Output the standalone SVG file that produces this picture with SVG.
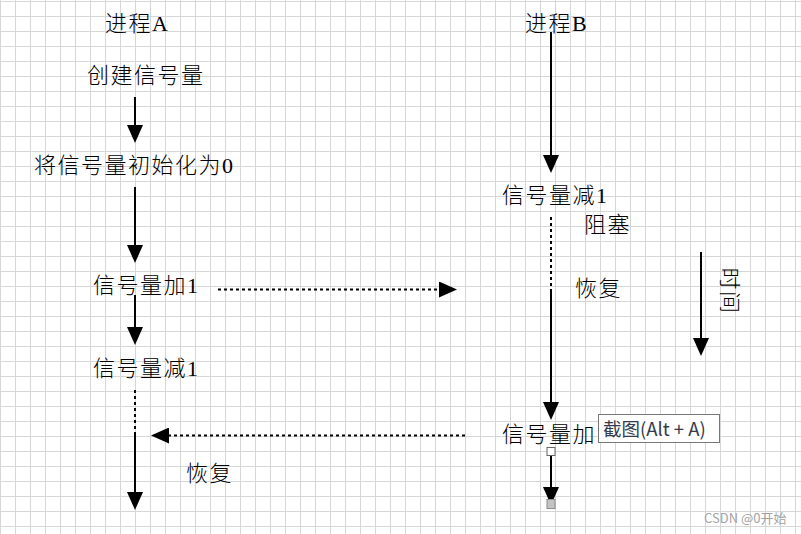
<svg xmlns="http://www.w3.org/2000/svg" width="801" height="534" viewBox="0 0 801 534">
  <defs>
    <pattern id="grid" x="0" y="1" width="15" height="15" patternUnits="userSpaceOnUse">
      <rect width="15" height="15" fill="#ffffff"/>
      <path d="M0.5 0 V15 M0 0.5 H15" stroke="#d6d6d6" stroke-width="1" fill="none"/>
    </pattern>
    <marker id="arrow" viewBox="0 0 18 16" markerWidth="18" markerHeight="16" refX="10" refY="8" orient="auto" markerUnits="userSpaceOnUse">
      <path d="M0 0 L18 8 L0 16 Z" fill="#000"/>
    </marker>
    <style>
      .lbl { font-family: "Liberation Serif", "Noto Sans CJK SC", serif; font-size: 22px; font-weight: 300; letter-spacing: 1.5px; fill: #000; }
      .solid { stroke: #000; stroke-width: 2; fill: none; }
      .dot { stroke: #000; stroke-width: 2; fill: none; stroke-dasharray: 3 3; }
      .tip { font-family: "Noto Sans CJK SC", "Liberation Sans", sans-serif; font-size: 18.5px; fill: #333c4e; }
      .mark { font-family: "Noto Sans CJK SC", "Liberation Sans", sans-serif; font-size: 13px; fill: #a3a3a3; }
    </style>
  </defs>

  <!-- background grid -->
  <rect width="801" height="534" fill="url(#grid)"/>

  <!-- connectors -->
  <g id="connectors">
    <!-- process A timeline -->
    <line class="solid" x1="135" y1="97" x2="135" y2="135" marker-end="url(#arrow)"/>
    <line class="solid" x1="135" y1="187" x2="135" y2="255" marker-end="url(#arrow)"/>
    <line class="solid" x1="135" y1="295" x2="135" y2="337" marker-end="url(#arrow)"/>
    <line class="dot" x1="135" y1="390" x2="135" y2="432"/>
    <line class="solid" x1="135" y1="432" x2="135" y2="502" marker-end="url(#arrow)"/>
    <!-- process B timeline -->
    <line class="solid" x1="551" y1="32" x2="551" y2="165" marker-end="url(#arrow)"/>
    <line class="dot" x1="551" y1="217" x2="551" y2="288"/>
    <line class="solid" x1="551" y1="289" x2="551" y2="412" marker-end="url(#arrow)"/>
    <line class="solid" x1="551" y1="455" x2="551" y2="497" marker-end="url(#arrow)"/>
    <!-- signals between processes -->
    <line class="dot" x1="218" y1="289.5" x2="449" y2="289.5" marker-end="url(#arrow)"/>
    <line class="dot" x1="465" y1="435.5" x2="159" y2="435.5" marker-end="url(#arrow)"/>
    <!-- time axis -->
    <line class="solid" x1="701" y1="252" x2="701" y2="348" marker-end="url(#arrow)"/>
    <!-- selection handles -->
    <rect x="547" y="447.5" width="8" height="8" fill="#ffffff" stroke="#666" stroke-width="1"/>
    <rect x="547" y="499.5" width="8" height="9" fill="#c4c4c4" stroke="#8a8a8a" stroke-width="1"/>
  </g>

  <!-- process A -->
  <g id="procA-title"><text class="lbl" x="105" y="31">进程A</text></g>
  <g id="procA-create"><text class="lbl" x="87" y="82.5">创建信号量</text></g>
  <g id="procA-init"><text class="lbl" x="34" y="172.5">将信号量初始化为0</text></g>
  <g id="procA-post"><text class="lbl" x="93" y="292.5">信号量加1</text></g>
  <g id="procA-wait"><text class="lbl" x="93" y="376">信号量减1</text></g>
  <g id="procA-resume"><text class="lbl" x="186" y="480.5">恢复</text></g>

  <!-- process B -->
  <g id="procB-title"><text class="lbl" x="525" y="31">进程B</text></g>
  <g id="procB-wait"><text class="lbl" x="502" y="203">信号量减1</text></g>
  <g id="procB-block"><text class="lbl" x="584" y="231.5">阻塞</text></g>
  <g id="procB-resume"><text class="lbl" x="575" y="296">恢复</text></g>
  <g id="procB-post"><text class="lbl" x="502" y="442">信号量加1</text></g>

  <!-- time label -->
  <g id="time"><text class="lbl" transform="translate(722 291) rotate(90)" text-anchor="middle">时间</text></g>

  <!-- screenshot tooltip -->
  <g id="tooltip">
    <rect x="598.5" y="414.5" width="121" height="28" fill="#ffffff" stroke="#777" stroke-width="1"/>
    <text class="tip" x="603" y="435.5">截图(Alt + A)</text>
  </g>

  <!-- watermark -->
  <g id="watermark"><text class="mark" x="704" y="523">CSDN @0开始</text></g>
</svg>
